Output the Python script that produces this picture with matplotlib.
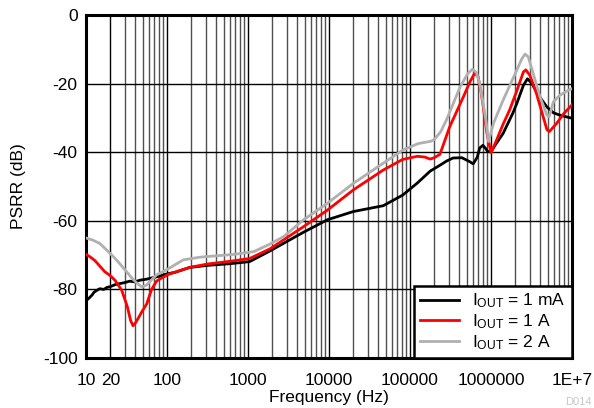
import matplotlib
matplotlib.use("Agg")
import matplotlib.pyplot as plt
from matplotlib.ticker import FixedLocator, LogLocator, NullFormatter
import numpy as np

plt.rcParams["font.family"] = ["Liberation Sans", "DejaVu Sans"]

# log10(frequency) and PSRR (dB)
u_1ma = [1.0, 1.04, 1.08, 1.1, 1.14, 1.17, 1.22, 1.26, 1.3, 1.36, 1.42, 1.48, 1.54,
         1.6, 1.67, 1.73, 1.79, 1.86, 1.93, 1.98, 2.1, 2.28, 2.5, 2.78, 3.02, 3.27,
         3.68, 3.98, 4.3, 4.67, 4.91, 5.09, 5.25, 5.37, 5.45, 5.53, 5.64, 5.74, 5.78,
         5.83, 5.86, 5.9, 5.93, 5.96, 6.0, 6.05, 6.15, 6.27, 6.32, 6.4, 6.45, 6.5,
         6.56, 6.62, 6.69, 6.77, 6.85, 7.0]
db_1ma = [-83.3, -82.5, -81.5, -80.8, -80.2, -79.8, -80.0, -79.4, -79.2, -78.6, -78.3,
          -78.0, -77.6, -77.8, -77.3, -77.1, -76.8, -76.4, -76.0, -75.6, -75.0, -73.6,
          -73.0, -72.5, -71.9, -68.8, -63.4, -59.7, -57.3, -55.6, -52.5, -49.0, -45.5,
          -43.8, -42.6, -41.7, -41.6, -42.8, -43.4, -41.5, -38.8, -38.0, -38.8, -39.8,
          -39.9, -38.0, -34.5, -28.6, -25.7, -20.5, -18.6, -19.8, -22.3, -24.5, -26.8,
          -28.5, -29.2, -30.1]

u_1a = [1.0, 1.05, 1.11, 1.17, 1.23, 1.3, 1.36, 1.44, 1.51, 1.55, 1.58, 1.61, 1.65,
        1.69, 1.75, 1.81, 1.87, 1.94, 2.02, 2.1, 2.28, 2.5, 2.78, 3.02, 3.27, 3.68,
        3.98, 4.3, 4.67, 4.91, 5.09, 5.18, 5.25, 5.3, 5.37, 5.49, 5.66, 5.74, 5.8,
        5.84, 5.88, 5.95, 6.0, 6.07, 6.15, 6.23, 6.32, 6.4, 6.43, 6.48, 6.56, 6.63,
        6.69, 6.72, 6.81, 6.9, 7.0]
db_1a = [-69.8, -70.5, -71.6, -73.2, -74.8, -76.0, -77.4, -80.2, -85.0, -89.0, -90.6,
         -89.8, -88.2, -86.5, -84.2, -80.0, -77.6, -76.6, -75.6, -75.0, -73.6, -72.6,
         -71.8, -71.0, -68.2, -61.8, -56.9, -51.0, -45.2, -42.1, -41.2, -41.4, -42.0,
         -41.6, -40.6, -32.6, -23.8, -19.5, -16.9, -18.0, -22.8, -34.5, -40.2, -36.4,
         -31.8, -27.7, -22.0, -16.6, -16.0, -17.6, -22.8, -28.5, -33.4, -34.0, -31.6,
         -28.7, -26.2]

u_2a = [1.0, 1.08, 1.17, 1.25, 1.34, 1.42, 1.5, 1.57, 1.63, 1.69, 1.75, 1.81, 1.87,
        2.0, 2.2, 2.41, 2.82, 3.07, 3.27, 3.44, 3.68, 3.98, 4.3, 4.67, 4.91, 5.1,
        5.26, 5.3, 5.38, 5.45, 5.62, 5.71, 5.77, 5.82, 5.86, 5.93, 5.97, 6.03, 6.15,
        6.32, 6.38, 6.42, 6.46, 6.52, 6.6, 6.69, 6.72, 6.77, 6.85, 6.95, 7.0]
db_2a = [-65.0, -65.6, -66.6, -68.4, -70.5, -72.6, -74.8, -76.8, -78.2, -79.3, -78.7,
         -77.2, -75.8, -74.2, -71.4, -70.6, -69.8, -69.0, -66.8, -64.6, -59.8, -54.9,
         -49.1, -43.2, -39.4, -37.5, -36.8, -36.3, -34.0, -30.6, -20.9, -17.2, -15.8,
         -16.8, -19.9, -29.6, -36.9, -31.6, -24.8, -16.0, -12.8, -11.4, -12.2, -17.0,
         -23.5, -29.2, -29.6, -25.3, -23.4, -22.0, -21.5]

series = [
    ("$\\mathregular{I_{OUT}}$ = 1 mA", u_1ma, db_1ma, "black"),
    ("$\\mathregular{I_{OUT}}$ = 1 A", u_1a, db_1a, "#ff0000"),
    ("$\\mathregular{I_{OUT}}$ = 2 A", u_2a, db_2a, "#b0b0b0"),
]

x_ticks = [10, 20, 100, 1000, 10000, 100000, 1000000, 10000000]
x_labels = ["10", "20", "100", "1000", "10000", "100000", "1000000", "1E+7"]
y_ticks = [0, -20, -40, -60, -80, -100]

fig = plt.figure(figsize=(5.94, 4.08), dpi=100)
ax = fig.add_axes([86 / 594, 1 - 358 / 408, (572 - 86) / 594, (358 - 15) / 408])

for label, u, db, color in series:
    ax.plot(10 ** np.array(u), db, color=color, lw=2.0, label=label, zorder=3)

ax.set_xscale("log")
ax.set_xlim(10, 1e7)
ax.set_ylim(-100, 0)

ax.xaxis.set_major_locator(FixedLocator(x_ticks))
ax.set_xticklabels(x_labels)
ax.xaxis.set_minor_locator(LogLocator(base=10, subs=np.arange(2, 10), numticks=20))
ax.xaxis.set_minor_formatter(NullFormatter())
ax.set_yticks(y_ticks)
ax.set_yticklabels([str(v) for v in y_ticks])

ax.grid(True, which="major", axis="both", color="black", lw=1.0, zorder=1)
ax.grid(True, which="minor", axis="x", color="#505050", lw=1.0, zorder=1)
ax.tick_params(which="both", length=0, labelsize=12.5)
ax.tick_params(axis="x", pad=11)
ax.tick_params(axis="y", pad=6)

for s in ax.spines.values():
    s.set_linewidth(2.2)
    s.set_color("black")

ax.set_xlabel("Frequency (Hz)", fontsize=12.5, labelpad=1)
ax.set_ylabel("PSRR (dB)", fontsize=12.5, labelpad=12)

leg = ax.legend(loc="lower right", fontsize=12.5, frameon=True, fancybox=False,
                borderaxespad=0, handlelength=2.2, handletextpad=0.8,
                labelspacing=0.12, borderpad=0.35, framealpha=1)
leg.get_frame().set_edgecolor("black")
leg.get_frame().set_linewidth(1.8)
leg.set_zorder(5)

fig.text(592 / 594, 1 / 408, "D014", color="#c8c8c8", fontsize=8, ha="right", va="bottom")

fig.savefig("out.png", dpi=100)
